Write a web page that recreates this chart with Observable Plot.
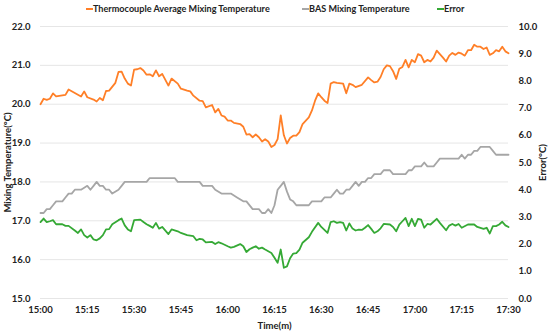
<!DOCTYPE html>
<html>
<head>
<meta charset="utf-8">
<script src="https://cdn.jsdelivr.net/npm/d3@7"></script>
<script src="https://cdn.jsdelivr.net/npm/@observablehq/plot@0.6"></script>
<style>
  html, body { margin: 0; padding: 0; background: #fff; }
  #wrap { position: relative; width: 550px; height: 334px; font-family: Lato, sans-serif; font-weight: bold; }
  #legend { position: relative; height: 20px; font-size: 9.1px; color: #222; }
  .item { position: absolute; top: 3px; display: flex; align-items: center; white-space: nowrap; }
  .sw { display: inline-block; width: 7px; height: 2px; margin-right: 0px; }
</style>
</head>
<body>
<div id="wrap">
  <div id="legend"></div>
  <div id="chart"></div>
</div>
<script>
// Time in minutes after 15:00
const xTickLabels = ["15:00","15:15","15:30","15:45","16:00","16:15","16:30","16:45","17:00","17:15","17:30"];
const leftTicks = [15, 16, 17, 18, 19, 20, 21, 22];
const rightTicks = [0, 1, 2, 3, 4, 5, 6, 7, 8, 9, 10];
const seriesNames = ["Thermocouple Average Mixing Temperature", "BAS Mixing Temperature", "Error"];
const seriesColors = ["#FF7F27", "#A6A6A6", "#35A935"];

const thermoMin = [0,1,2,3,4,5,8,9,11,13,14,15,17,18,19,20,21,22,24,25,26,27,28,29,30,31,32,33,34,35,36,37,38,39,41,42,44,45,47,48,49,51,52,53,55,56,57,58,59,60,61,62,64,65,66,67,68,69,70,71,72,73,74,75,76,77,78,79,80,81,82,83,84,86,87,88,89,90,91,92,93,94,95,97,98,99,100,101,103,105,106,107,108,109,110,111,112,113,114,115,116,117,118,119,120,121,122,123,124,125,126,127,128,129,130,131,132,133,134,135,136,137,138,139,140,141,142,143,144,145,146,147,148,149,150];
const thermoVal = [20.0,20.14,20.11,20.14,20.28,20.2,20.24,20.38,20.29,20.2,20.33,20.18,20.12,20.07,20.16,20.1,20.34,20.35,20.55,20.83,20.84,20.66,20.53,20.48,20.89,20.9,20.93,20.87,20.76,20.77,20.72,20.87,20.72,20.78,20.48,20.66,20.53,20.4,20.35,20.33,20.22,20.09,20.08,19.92,19.98,19.79,19.88,19.71,19.68,19.58,19.58,19.52,19.49,19.42,19.22,19.23,19.15,19.22,19.15,19.04,19.1,19.04,18.9,18.95,19.1,19.71,19.2,18.99,19.13,19.19,19.19,19.28,19.49,19.66,19.84,20.09,20.28,20.18,20.09,20.03,20.53,20.57,20.55,20.53,20.28,20.53,20.5,20.44,20.5,20.69,20.62,20.56,20.58,20.7,20.9,21.0,20.98,20.85,20.65,20.91,20.96,21.14,20.95,21.14,21.08,21.29,21.25,21.08,21.14,21.1,21.2,21.38,21.29,21.2,21.1,21.25,21.32,21.27,21.33,21.3,21.25,21.39,21.39,21.53,21.48,21.48,21.42,21.46,21.27,21.31,21.39,21.36,21.48,21.36,21.31];

const basMin = [0,1,2,3,4,5,7,8,9,10,11,13,15,16,17,18,19,20,21,22,23,25,26,27,34,35,43,44,51,52,55,56,58,61,63,65,66,68,70,71,72,73,74,75,76,77,78,79,80,81,82,86,87,90,91,93,94,95,96,97,98,99,100,101,102,103,104,105,106,107,109,110,112,113,117,118,119,120,122,123,124,126,127,128,134,135,136,137,138,139,140,141,144,145,146,150];
const basVal = [17.2,17.2,17.3,17.3,17.4,17.5,17.5,17.6,17.7,17.7,17.8,17.8,17.9,17.8,17.9,18.0,17.9,17.9,17.8,17.8,17.7,17.8,17.9,18.0,18.0,18.1,18.1,18.0,18.0,17.9,17.9,17.8,17.7,17.7,17.6,17.5,17.5,17.3,17.3,17.2,17.2,17.3,17.2,17.4,17.8,17.9,18.0,17.75,17.55,17.5,17.4,17.4,17.5,17.5,17.6,17.6,17.7,17.8,17.7,17.7,17.8,17.8,17.9,18.0,17.9,18.0,18.0,18.1,18.1,18.2,18.2,18.3,18.3,18.2,18.2,18.3,18.3,18.4,18.4,18.5,18.4,18.4,18.5,18.6,18.6,18.7,18.6,18.7,18.7,18.8,18.8,18.9,18.9,18.8,18.7,18.7];

const errMin = [0,1,2,3,4,5,7,8,9,11,12,13,14,15,16,17,18,19,20,21,22,23,25,26,27,28,29,30,32,33,34,35,36,37,38,39,41,42,44,45,47,49,50,51,52,53,54,55,56,57,58,60,61,62,64,65,66,67,68,69,70,71,72,74,75,76,77,78,79,80,81,82,83,84,86,87,89,90,92,93,94,95,96,97,98,99,100,101,102,103,104,105,106,107,108,109,110,112,113,114,115,116,117,118,119,120,121,122,123,124,125,127,128,130,131,132,133,134,135,137,139,140,142,143,144,145,146,147,148,149,150];
const errVal = [2.81,2.94,2.81,2.84,2.88,2.73,2.73,2.67,2.67,2.5,2.41,2.54,2.33,2.24,2.33,2.17,2.14,2.21,2.33,2.54,2.55,2.73,2.88,2.94,2.69,2.54,2.47,2.88,2.9,2.81,2.73,2.67,2.6,2.78,2.57,2.63,2.37,2.54,2.47,2.41,2.33,2.29,2.14,2.19,2.17,2.06,2.07,2.08,2.0,2.07,2.03,1.92,1.87,1.9,2.0,1.92,1.71,1.81,1.87,1.92,1.83,1.87,1.8,1.67,1.5,1.31,1.8,1.13,1.18,1.48,1.65,1.67,1.8,2.05,2.25,2.45,2.78,2.63,2.41,2.81,2.84,2.78,2.81,2.78,2.5,2.76,2.57,2.5,2.53,2.52,2.6,2.7,2.56,2.41,2.47,2.58,2.74,2.72,2.63,2.47,2.72,2.84,2.96,2.66,2.93,2.66,2.93,2.9,2.6,2.74,2.72,2.93,2.78,2.51,2.68,2.74,2.68,2.74,2.6,2.72,2.72,2.63,2.56,2.6,2.39,2.66,2.66,2.72,2.82,2.69,2.63];

// Right (error) axis shares the left scale: error 0..10 maps onto 15..22
const toLeft = e => 15 + e * 0.7;
const fromLeft = v => (v - 15) / 0.7;

const thermo = thermoMin.map((m, i) => ({m, v: thermoVal[i]}));
const bas = basMin.map((m, i) => ({m, v: basVal[i]}));
const err = errMin.map((m, i) => ({m, e: errVal[i]}));

// Legend
const legendPos = [86, 302, 437];
const legend = document.getElementById("legend");
seriesNames.forEach((name, i) => {
  const it = document.createElement("div");
  it.className = "item";
  it.style.left = legendPos[i] + "px";
  it.innerHTML = `<span class="sw" style="background:${seriesColors[i]}"></span><span>${name}</span>`;
  legend.appendChild(it);
});

const chart = Plot.plot({
  width: 550,
  height: 314,
  marginTop: 6,
  marginBottom: 36,
  marginLeft: 40,
  marginRight: 42,
  style: {fontFamily: "Lato", fontWeight: "bold", fontSize: "9.5px", color: "#222", background: "#fff"},
  x: {domain: [0, 150]},
  y: {domain: [15, 22]},
  marks: [
    Plot.ruleY(leftTicks, {stroke: "#e6e6e6", strokeWidth: 1}),
    Plot.axisX({
      ticks: d3.range(0, 151, 15),
      tickFormat: d => xTickLabels[d / 15],
      tickSize: 0, tickPadding: 8,
      label: "Time(m)", labelAnchor: "center", labelArrow: "none", labelOffset: 30
    }),
    Plot.axisY({
      anchor: "left", ticks: leftTicks, tickFormat: d => d.toFixed(1),
      tickSize: 0, tickPadding: 10,
      label: "Mixing Temperature(°C)", labelAnchor: "center", labelArrow: "none", labelOffset: 36
    }),
    Plot.axisY({
      anchor: "right", ticks: rightTicks.map(toLeft), tickFormat: d => fromLeft(d).toFixed(1),
      tickSize: 0, tickPadding: 10,
      label: "Error(°C)", labelAnchor: "center", labelArrow: "none", labelOffset: 37
    }),
    Plot.line(bas, {x: "m", y: "v", stroke: seriesColors[1], strokeWidth: 1.8}),
    Plot.line(err, {x: "m", y: d => toLeft(d.e), stroke: seriesColors[2], strokeWidth: 1.8}),
    Plot.line(thermo, {x: "m", y: "v", stroke: seriesColors[0], strokeWidth: 1.8})
  ]
});
document.getElementById("chart").appendChild(chart);
</script>
</body>
</html>
